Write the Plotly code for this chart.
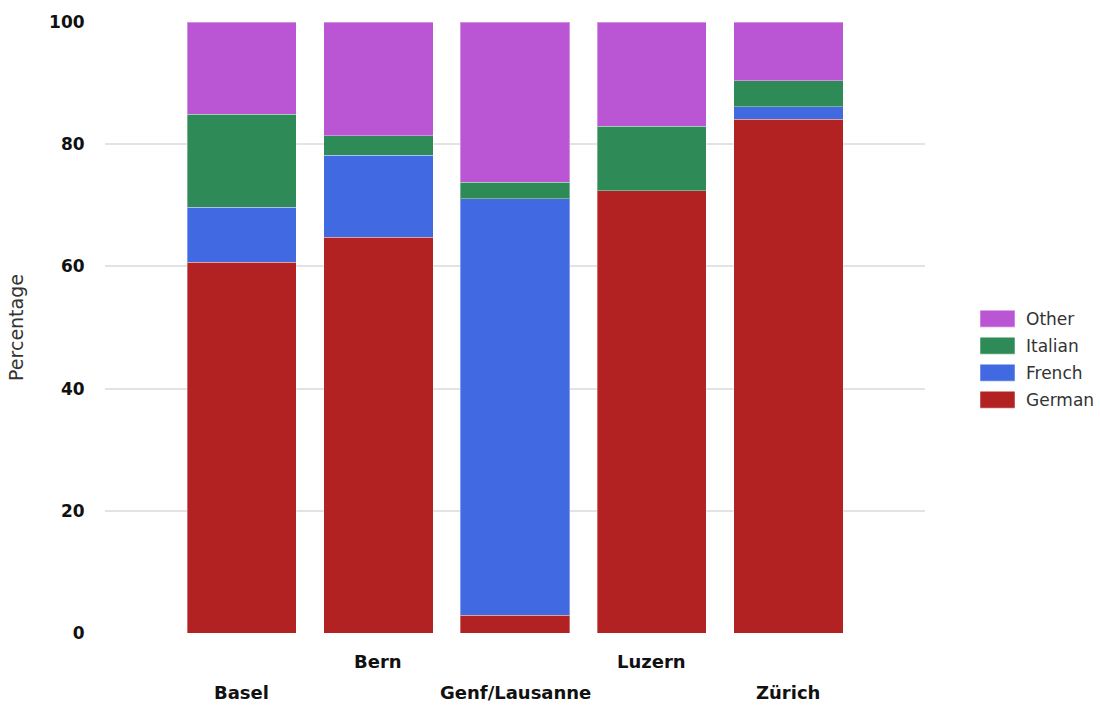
import plotly.graph_objects as go

# Language shares by city (percent)
cities = ["Basel", "Bern", "Genf/Lausanne", "Luzern", "Zürich"]
german = [60.7, 64.8, 2.9, 72.4, 84.1]
french = [9.0, 13.4, 68.2, 0.0, 2.0]
italian = [15.2, 3.2, 2.7, 10.5, 4.3]
other = [15.1, 18.6, 26.2, 17.1, 9.6]

y_ticks = [0, 20, 40, 60, 80, 100]

series = [
    ("German", german, "#B22222"),
    ("French", french, "#4169E1"),
    ("Italian", italian, "#2E8B57"),
    ("Other", other, "#BA55D3"),
]

FONT = "DejaVu Sans"
TEXT = "#333333"

fig = go.Figure()
for name, vals, color in series:
    fig.add_trace(go.Bar(
        name=name,
        x=list(range(len(cities))),
        y=vals,
        marker=dict(color=color, line=dict(color="rgba(255,255,255,0.35)", width=1)),
        showlegend=False,
    ))

# Staggered bold category labels below the axis
annotations = []
for i, city in enumerate(cities):
    annotations.append(dict(
        x=i, y=0, xref="x", yref="y",
        text=f"<b>{city}</b>", showarrow=False,
        yanchor="middle", xanchor="center",
        yshift=-28 if i % 2 else -59,
        font=dict(family=FONT, size=18, color="#111111"),
    ))

# Legend drawn at the right, top entry last series
shapes = []
sw_x0, sw_x1 = 980, 1015
top_y = 310
step = 27
for k, (name, vals, color) in enumerate(reversed(series)):
    y0 = top_y + k * step
    shapes.append(dict(
        type="rect", xref="paper", yref="paper",
        x0=(sw_x0 - 105) / 820, x1=(sw_x1 - 105) / 820,
        y0=1 - (y0 + 17 - 22) / 610.7, y1=1 - (y0 - 22) / 610.7,
        fillcolor=color, line=dict(color="rgba(255,255,255,0.5)", width=1),
    ))
    annotations.append(dict(
        x=(1024 - 105) / 820, y=1 - (y0 + 8.5 - 22) / 610.7,
        xref="paper", yref="paper", xanchor="left", yanchor="middle",
        text=name, showarrow=False,
        font=dict(family=FONT, size=17, color=TEXT),
    ))

fig.update_layout(
    barmode="stack",
    bargap=0.2,
    width=1100, height=706,
    margin=dict(l=105, r=175, t=22, b=73),
    paper_bgcolor="white",
    plot_bgcolor="white",
    font=dict(family=FONT, color=TEXT),
    annotations=annotations,
    shapes=shapes,
    xaxis=dict(
        range=[-1, len(cities)],
        showticklabels=False,
        showgrid=False,
        zeroline=False,
        showline=False,
        ticks="",
    ),
    yaxis=dict(
        range=[0, 100],
        tickvals=y_ticks,
        ticktext=[f"<b>{v}</b>" for v in y_ticks],
        tickfont=dict(family=FONT, size=17, color="#111111"),
        ticks="outside", ticklen=16, tickcolor="rgba(0,0,0,0)",
        showgrid=True, gridcolor="#e3e3e3", gridwidth=2,
        zeroline=False, showline=False,
        title=dict(text="Percentage", font=dict(family=FONT, size=19, color=TEXT), standoff=20),
    ),
)

fig.write_html("out.html")
